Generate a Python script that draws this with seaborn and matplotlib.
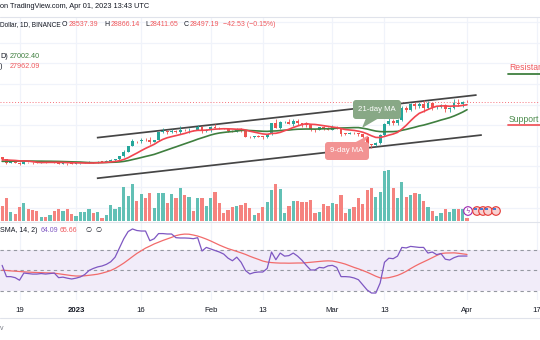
import numpy as np
import pandas as pd
import matplotlib
matplotlib.use("Agg")
import matplotlib.pyplot as plt
import seaborn as sns
from matplotlib.transforms import IdentityTransform
from matplotlib.patches import FancyBboxPatch, Polygon, Circle, Rectangle
from matplotlib.lines import Line2D

# ---------------- data (daily, 15 Dec 2022 -> 1 Apr 2023) ----------------
start_date = "2022-12-15"
end_date = "2023-04-01"

opens = [17800, 17360, 16630, 16777, 16738, 16439, 16897, 16824, 16821, 16778, 16836, 16832, 16919, 16707, 16547, 16633, 16607,
         16542, 16616, 16673, 16673, 16850, 16831, 16950, 16943, 17127, 17178,
         17440, 17943, 18846, 19930, 20954, 20872, 21185, 21133, 20677, 21071,
         22667, 22783, 22708, 22917, 22633, 23060, 23009, 23074, 23028, 23743,
         22826, 23126, 23731, 23488, 23431, 23326, 22933, 22763, 23264, 22939,
         21797, 21625, 21862, 21783, 21773, 22200, 24329, 23515, 24569, 24631,
         24271, 24838, 24439, 24189, 23947, 23198, 23157, 23554, 23492, 23148,
         23647, 23475, 22362, 22346, 22431, 22411, 22197, 21705, 20362, 20187,
         20633, 22163, 24197, 24746, 24375, 25055, 27423, 26965, 28038, 27767,
         28175, 27308, 28333, 27493, 27494, 27994, 27140, 27268, 28348, 28033,
         28537.39]
highs = [17850, 17530, 16800, 16860, 16815, 17060, 16920, 16870, 16950, 16870, 16860, 16940, 16970, 16780, 16660, 16640, 16650,
         16630, 16760, 16780, 16990, 16880, 17040, 16970, 17180, 17390, 17490,
         18000, 19100, 19970, 21260, 20990, 21470, 21440, 21650, 21190, 22750,
         23380, 23080, 23170, 23160, 23800, 23290, 23500, 23160, 23960, 23810,
         23320, 23810, 24250, 23580, 23460, 23430, 23160, 23360, 23450, 22990,
         21940, 21900, 22090, 21890, 22330, 24370, 25250, 24850, 24890, 25180,
         25120, 25250, 24480, 24600, 24150, 23220, 23690, 23880, 23600, 23990,
         23780, 23480, 22420, 22640, 22600, 22530, 22270, 21820, 20370, 20790,
         22200, 24500, 26390, 25250, 25200, 27760, 27720, 28390, 28500, 28450,
         28900, 28770, 28400, 27790, 28200, 28030, 27500, 29170, 29150, 28650,
         28866.14]
lows = [17280, 16530, 16580, 16670, 16260, 16400, 16740, 16560, 16760, 16760, 16730, 16790, 16600, 16470, 16500, 16330, 16480,
        16500, 16550, 16600, 16650, 16750, 16670, 16910, 16910, 17100, 17140,
        17320, 17910, 18710, 19890, 20550, 20600, 20850, 20400, 20650, 20870,
        22430, 22290, 22500, 22450, 22300, 22850, 22530, 22880, 22980, 22540,
        22710, 22760, 23360, 23200, 23230, 22750, 22630, 22750, 22680, 21690,
        21470, 21600, 21640, 21360, 21540, 22050, 23500, 23350, 24430, 24240,
        23840, 24130, 23570, 23630, 22850, 22750, 23080, 23110, 23030, 23020,
        23200, 21970, 22170, 22210, 22260, 21930, 21580, 20050, 19550, 19900,
        20270, 21880, 24050, 23960, 24120, 24890, 26580, 26830, 27120, 27360,
        26600, 27150, 27000, 27150, 27370, 26550, 26630, 27220, 27720, 27530,
        28411.65]
closes = [17360, 16630, 16777, 16738, 16439, 16897, 16824, 16821, 16778, 16836, 16832, 16919, 16707, 16547, 16633, 16607, 16542,
          16616, 16673, 16673, 16850, 16831, 16950, 16943, 17127, 17178, 17440,
          17943, 18846, 19930, 20954, 20872, 21185, 21133, 20677, 21071, 22667,
          22783, 22708, 22917, 22633, 23060, 23009, 23074, 23028, 23743, 22826,
          23126, 23731, 23488, 23431, 23326, 22933, 22763, 23264, 22939, 21797,
          21625, 21862, 21783, 21773, 22200, 24329, 23515, 24569, 24631, 24271,
          24838, 24439, 24189, 23947, 23198, 23157, 23554, 23492, 23148, 23647,
          23475, 22362, 22346, 22431, 22411, 22197, 21705, 20362, 20187, 20633,
          22163, 24197, 24746, 24375, 25055, 27423, 26965, 28038, 27767, 28175,
          27308, 28333, 27493, 27494, 27994, 27140, 27268, 28348, 28033, 28478,
          28497.19]
volume_k = [165, 250, 102, 77, 157, 201, 129, 121, 113, 41, 47, 66, 113, 135, 113, 129, 77,
            55, 102, 102, 129, 85, 102, 30, 63, 176, 129,
            157, 377, 275, 407, 223, 297, 250, 305, 140, 305,
            308, 195, 300, 250, 363, 283, 267, 113, 256, 250,
            165, 256, 322, 195, 85, 121, 157, 168, 176, 201,
            146, 63, 91, 157, 209, 341, 407, 349, 91, 165,
            223, 223, 212, 206, 231, 85, 102, 187, 165, 195,
            184, 286, 91, 135, 151, 250, 187, 341, 360, 261,
            319, 553, 561, 366, 256, 429, 267, 286, 305, 294,
            220, 151, 110, 58, 85, 132, 102, 132, 135, 135,
            33]
ma9 = [17272, 17249, 17200, 17157, 17080, 17058, 17028, 16921, 16807, 16749, 16771, 16787, 16784, 16796, 16766, 16742, 16711,
       16693, 16675, 16657, 16650, 16664, 16708, 16743, 16801, 16871, 16963,
       17104, 17345, 17688, 18146, 18581, 19053, 19498, 19887, 20290, 20815,
       21252, 21561, 21779, 21975, 22183, 22392, 22658, 22875, 22995, 23000,
       23046, 23137, 23232, 23273, 23308, 23292, 23263, 23210, 23222, 23075,
       22841, 22660, 22477, 22304, 22223, 22397, 22425, 22606, 22921, 23215,
       23545, 23841, 24109, 24303, 24177, 24138, 24025, 23898, 23774, 23641,
       23534, 23331, 23153, 23068, 22985, 22834, 22636, 22326, 21942, 21626,
       21604, 21810, 22067, 22285, 22603, 23238, 23972, 24844, 25637, 26305,
       26650, 27049, 27395, 27666, 27730, 27749, 27664, 27728, 27712, 27842,
       27962.09]
ma21 = [16986, 16994, 17010, 17025, 17036, 17058, 17042, 17034, 17019, 17017, 17004, 17001, 16983, 16970, 16942, 16917, 16889,
        16866, 16846, 16793, 16748, 16722, 16738, 16746, 16764, 16799, 16825,
        16878, 16975, 17125, 17321, 17513, 17717, 17927, 18124, 18335, 18624,
        18921, 19211, 19508, 19792, 20088, 20382, 20674, 20964, 21279, 21548,
        21818, 22094, 22315, 22482, 22595, 22693, 22768, 22869, 22977, 23012,
        22962, 22918, 22874, 22820, 22799, 22860, 22884, 22955, 23031, 23056,
        23152, 23215, 23236, 23258, 23247, 23239, 23269, 23303, 23298, 23332,
        23412, 23447, 23470, 23500, 23531, 23531, 23406, 23256, 23047, 22857,
        22756, 22726, 22740, 22749, 22802, 23003, 23184, 23398, 23602, 23841,
        24015, 24247, 24491, 24736, 25001, 25226, 25468, 25784, 26149, 26544,
        27002.40]
rsi = [55, 44, 44, 43, 40.5, 47.5, 47, 46.5, 46.5, 47, 46.5, 47, 47.5, 43, 43.5, 42.5, 41.7,
       42.5, 43.7, 46, 50, 52, 53.5, 54.4, 56, 58.5, 63,
       72, 81, 88, 90.5, 89, 88.5, 88.5, 79, 81, 86,
       86, 85.6, 85.6, 82, 81.7, 81.7, 81.5, 81, 82, 69,
       72.5, 71, 69.5, 68, 66, 62, 59.5, 63, 58, 50,
       46.6, 48, 48.5, 48.5, 52, 68, 60.5, 67, 64, 64.5,
       67, 64, 60, 55, 50.5, 50.5, 53, 52.5, 54.5, 55,
       53, 44, 44, 43.7, 42.7, 41, 36, 31, 28, 28,
       37.8, 58, 62, 61.5, 64, 72.5, 72, 73.5, 73, 72.5,
       72.5, 67, 68, 65.5, 66.5, 61, 60.2, 62.5, 64, 64.1,
       64.09]
rsi_ma = [50.3, 50, 49.6, 49.3, 49, 48.7, 48.4, 48.2, 48, 47.9, 47.7, 47.6, 47.3, 46.8, 46.2, 45.6, 45,
          44.6, 44.6, 44.8, 45.3, 45.8, 46.4, 47.4, 48.6, 50, 52,
          54.5, 57.2, 60.3, 63.5, 66.6, 69.2, 71.8, 73.8, 75.9, 77.6,
          79.3, 80.8, 82.3, 84, 85, 85.5, 85.4, 84.6, 83.6, 82.2,
          80.6, 78.8, 76.8, 74.8, 73, 71.3, 70, 68.6, 67.2, 65.7,
          63.9, 62.3, 60.8, 59.2, 58.2, 57.7, 57.4, 57.2, 57.2, 57.1,
          57.2, 57.3, 57.3, 57.6, 58, 58.4, 58.8, 59.2, 59.4, 59.2,
          58.4, 57.4, 56.2, 54.6, 53, 51.6, 50, 48.3, 46.4, 44.4,
          42.8, 42.5, 43, 44, 45.2, 47, 49.2, 51.8, 54.2, 56.4,
          58.4, 60.4, 62.5, 64.6, 66.5, 67, 67.1, 67.2, 66.8, 66.2,
          65.66]

# channel trend lines (day offset from 1 Jan 2023, price)
upper_days = [4.8, 92.2]
upper_prices = [21571, 29855]
lower_days = [4.8, 93.4]
lower_prices = [13695, 22095]

tick_days = [-13, 0, 15, 31, 43, 59, 71, 90, 106]
tick_labels = ["19", "2023", "16", "Feb", "13", "Mar", "13", "Apr", "17"]
price_grid = [44000, 40000, 36000, 32000, 28000, 24000, 20000, 16000, 12000, 8000]

# ---------------- setup ----------------
sns.set_theme(style="white")
plt.rcParams['font.family'] = ['Liberation Sans', 'DejaVu Sans']
plt.rcParams['axes.unicode_minus'] = False

W, H = 540, 340
fig = plt.figure(figsize=(5.4, 3.4), dpi=100)
fig.patch.set_facecolor("white")
ID = IdentityTransform()

dates = pd.date_range(start_date, end_date, freq="D")
day = np.asarray((dates - pd.Timestamp("2023-01-01")).days, dtype=float)
o = np.array(opens); c = np.array(closes); hi = np.array(highs); lo = np.array(lows)
up = c >= o

XL = (-17.49, 106.79)
PY = (5217, 44987)
GRID = "#f0f3fa"
TXT = "#131722"
UPC, DNC = "#26a69a", "#ef5350"
VUP, VDN = "#62c0b5", "#f5837f"

def rect(ytop, ybot):
    return [0, (H - ybot) / H, 1, (ybot - ytop) / H]

main_rect = rect(17, 222)

# background grid axes
ax_bg = fig.add_axes(main_rect)
ax_bg.set_xlim(XL); ax_bg.set_ylim(PY)
for p in price_grid:
    ax_bg.axhline(p, color=GRID, lw=0.9)
for t in tick_days:
    ax_bg.axvline(t, color=GRID, lw=0.9)
ax_bg.axis("off")

# volume
ax_vol = fig.add_axes(main_rect)
ax_vol.patch.set_alpha(0)
ax_vol.bar(day, volume_k, width=0.74, color=np.where(up, VUP, VDN), linewidth=0)
ax_vol.set_xlim(XL); ax_vol.set_ylim(-11, 2244)
ax_vol.axis("off")

# price
ax = fig.add_axes(main_rect)
ax.patch.set_alpha(0)
ax.set_xlim(XL); ax.set_ylim(PY)
ax.axhline(c[-1], color="#f23645", lw=0.7, ls=(0, (1, 2)), alpha=0.7, zorder=1)
ax.vlines(day, lo, hi, colors=np.where(up, UPC, DNC), lw=0.6, zorder=3)
body_h = np.maximum(np.abs(c - o), 60)
ax.bar(day, body_h, bottom=np.minimum(o, c), width=0.66, color=np.where(up, UPC, DNC), linewidth=0, zorder=4)
df = pd.DataFrame({"day": day, "ma9": ma9, "ma21": ma21})
sns.lineplot(data=df, x="day", y="ma21", ax=ax, color="#3f7f3f", lw=1.2, zorder=5)
sns.lineplot(data=df, x="day", y="ma9", ax=ax, color="#f2454f", lw=1.2, zorder=6)
ax.plot(upper_days, upper_prices, color="#454545", lw=1.25, zorder=2, solid_capstyle="butt")
ax.plot(lower_days, lower_prices, color="#454545", lw=1.25, zorder=2, solid_capstyle="butt")
ax.set_xlim(XL); ax.set_ylim(PY)
ax.axis("off")

# RSI pane
ax_r = fig.add_axes(rect(222, 300))
ax_r.set_xlim(XL); ax_r.set_ylim(21.2, 97.3)
for t in tick_days:
    ax_r.axvline(t, color=GRID, lw=0.9, zorder=0)
ax_r.axhspan(30, 70, color="#f1ecf9", zorder=0.5, lw=0)
for lvl in (70, 50, 30):
    ax_r.axhline(lvl, color="#9598a1", lw=0.8, ls=(0, (3, 3)), zorder=1)
rdf = pd.DataFrame({"day": day, "rsi": rsi, "rsi_ma": rsi_ma})
sns.lineplot(data=rdf, x="day", y="rsi_ma", ax=ax_r, color="#f26b6b", lw=0.9, zorder=3)
sns.lineplot(data=rdf, x="day", y="rsi", ax=ax_r, color="#7e57c2", lw=0.9, zorder=4)
ax_r.set_xlim(XL); ax_r.set_ylim(21.2, 97.3)
ax_r.set_xticks(tick_days)
ax_r.set_xticklabels(tick_labels)
for lab, txt in zip(ax_r.get_xticklabels(), tick_labels):
    lab.set_fontsize(5.6); lab.set_color(TXT)
    if txt == "2023":
        lab.set_fontweight("bold")
ax_r.tick_params(axis="x", length=0, pad=4.8)
ax_r.set_yticks([])
ax_r.set_xlabel(""); ax_r.set_ylabel("")
for s in ax_r.spines.values():
    s.set_visible(False)

# ---------------- decorations in pixel space ----------------
def P(x, y):
    return (x, H - y)

def hline(x0, x1, y, color, lw=0.8):
    fig.add_artist(Line2D([x0, x1], [H - y, H - y], transform=ID, color=color, lw=lw))

hline(0, 540, 16.5, "#e0e3eb")
hline(0, 540, 222, "#e0e3eb")
hline(0, 540, 318, "#e0e3eb")

def ftext(x, y, s, color=TXT, size=5.2, ha="left", weight="normal"):
    fig.text(x, H - y, s, transform=ID, color=color, fontsize=size, ha=ha, va="center", fontweight=weight)

RED = "#f05a5e"
ftext(0, 7, "on TradingView.com, Apr 01, 2023 13:43 UTC", size=5.3)
ftext(0, 25, "Dollar, 1D, BINANCE", size=4.7)
parts = [(62, "O", TXT), (68.5, "28537.39", RED), (104.5, "H", TXT), (110.5, "28866.14", RED),
         (145.5, "L", TXT), (150, "28411.65", RED), (183.5, "C", TXT), (189.5, "28497.19", RED),
         (223, "\u221242.53 (\u22120.15%)", RED)]
for x, s, col in parts:
    ftext(x, 25, s, color=col, size=5.0)
ftext(0, 56, "D)", size=5.2)
ftext(10, 56, "27002.40", color="#3f7f3f", size=5.2)
ftext(0, 67, ")", size=5.2)
ftext(10, 67, "27962.09", color=RED, size=5.2)
ftext(0, 231, "SMA, 14, 2)", size=5.0)
ftext(41, 231, "64.09", color="#7e57c2", size=5.0)
ftext(60, 231, "65.66", color=RED, size=5.0)
ftext(86, 231, "\u2205", size=5.0)
ftext(96, 231, "\u2205", size=5.0)
ftext(0, 328, "v", color="#787b86", size=5)

# Resistance / Support labels
ftext(509, 68, "Resistance", color="#f0595e", size=6.2)
hline(508, 540, 73.5, "#3f7f3f", lw=1.3)
ftext(509, 119, "Support", color="#4a8a4a", size=6.2)
hline(508, 540, 125, "#f0595e", lw=1.3)

# callouts
def callout(x0, y0, x1, y1, tail, fc, label):
    fig.add_artist(Polygon([P(*t) for t in tail], closed=True, transform=ID, fc=fc, ec="none"))
    fig.add_artist(FancyBboxPatch(P(x0, y1), x1 - x0, y1 - y0, boxstyle="round,pad=0,rounding_size=3",
                                  transform=ID, fc=fc, ec="none"))
    fig.text((x0 + x1) / 2, H - (y0 + y1) / 2, label, transform=ID, color="white", fontsize=5.6,
             ha="center", va="center")

callout(353, 100, 401, 119, [(366, 118), (379, 118), (362, 128)], "#88a886", "21-day MA")
callout(325, 142, 369, 160, [(354, 143), (364, 143), (369, 135)], "#f29393", "9-day MA")

# event icons
fig.add_artist(Circle(P(468, 211), 4.3, transform=ID, fc="white", ec="#9c27b0", lw=0.8))
fig.text(468, H - 211, "\u03df", transform=ID, color="#9c27b0", fontsize=5, ha="center", va="center",
         family="DejaVu Sans")
for cx in (477, 483, 488, 496):
    fig.add_artist(Circle(P(cx, 211), 4.3, transform=ID, fc="#f8d0d0", ec="#e53935", lw=0.8))
    fig.add_artist(Rectangle(P(cx - 3, 210), 3, 2.5, transform=ID, fc="#4a78d0", ec="none"))

fig.savefig("out.png", dpi=100)
